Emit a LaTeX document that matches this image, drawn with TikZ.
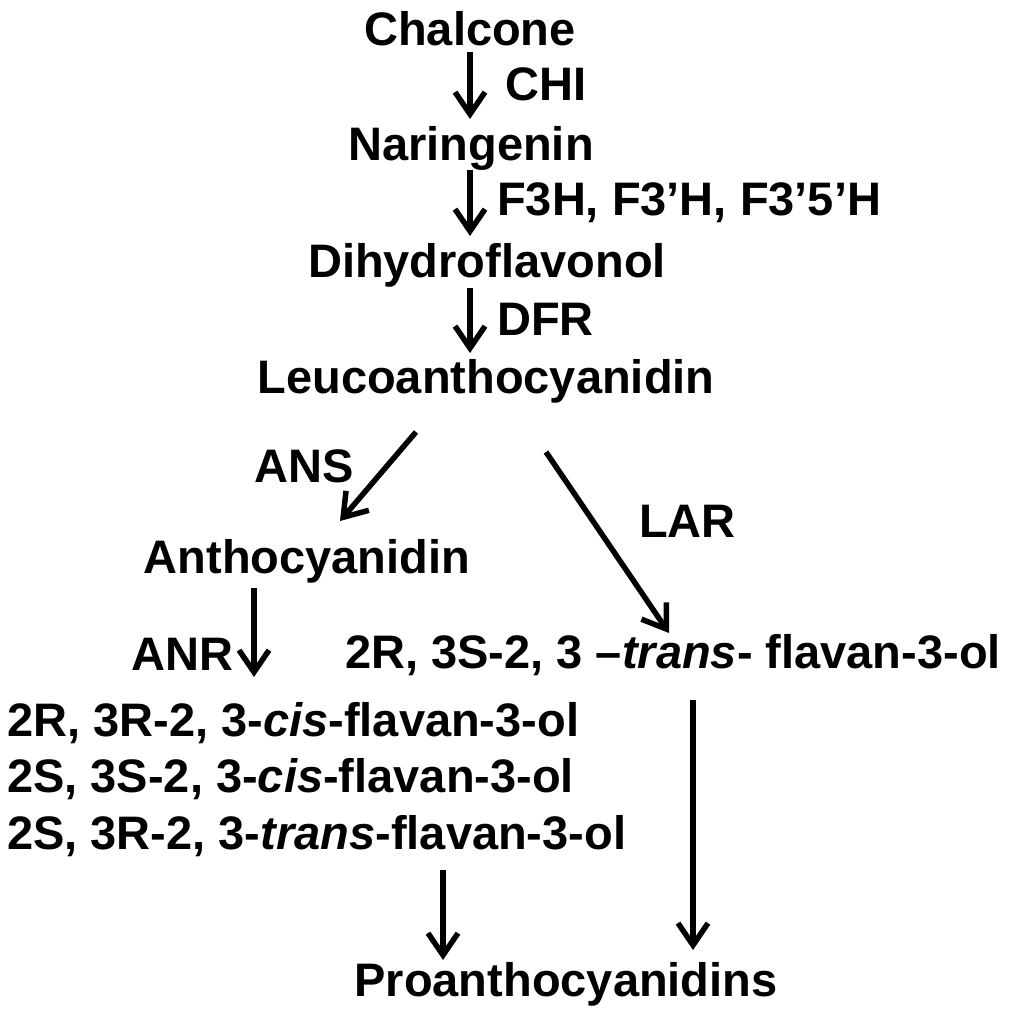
\documentclass[tikz,border=0pt]{standalone}
\usepackage{fontspec}
\setmainfont{Liberation Sans}
\usetikzlibrary{arrows.meta}
\begin{document}
\begin{tikzpicture}[x=1pt,y=-1pt,
  lbl/.style={inner sep=0pt,font=\bfseries\fontsize{47}{56}\selectfont},
  cbase/.style={lbl,anchor=base},
  lbase/.style={lbl,anchor=base west},
  arr/.style={line width=5.5pt,-{Straight Barb[length=22pt,width=30pt]}}]
\useasboundingbox[fill=white] (0,0) rectangle (1024,1015);
% compounds
\node[cbase] (chal) at (470,45) {Chalcone};
\node[cbase] (nar) at (471,160) {Naringenin};
\node[cbase] (dhf) at (487,277) {Dihydroflavonol};
\node[cbase] (leu) at (486,393) {Leucoanthocyanidin};
\node[cbase] (ant) at (307,573) {Anthocyanidin};
\node[lbase] (tr) at (345,668) {2R, 3S-2, 3 –\textit{trans}- flavan-3-ol};
\node[lbase] (c1) at (7,736) {2R, 3R-2, 3-\textit{cis}-flavan-3-ol};
\node[lbase] (c2) at (7,792) {2S, 3S-2, 3-\textit{cis}-flavan-3-ol};
\node[lbase] (c3) at (7,849) {2S, 3R-2, 3-\textit{trans}-flavan-3-ol};
\node[cbase] (pro) at (566,996) {Proanthocyanidins};
% enzymes
\node[lbase] (chi) at (505,100) {CHI};
\node[lbase] (f3h) at (497,215) {F3H, F3’H, F3’5’H};
\node[lbase] (dfr) at (497,335) {DFR};
\node[lbase] (ans) at (254,482) {ANS};
\node[lbase] (lar) at (639,537) {LAR};
\node[lbase] (anr) at (131,670) {ANR};
% arrow end points
\coordinate (a1s) at (470,52);  \coordinate (a1e) at (470,119);
\coordinate (a2s) at (470,170); \coordinate (a2e) at (470,236);
\coordinate (a3s) at (470,288); \coordinate (a3e) at (470,353);
\coordinate (ans1) at (416,432); \coordinate (ans2) at (340,521);
\coordinate (lar1) at (546,452); \coordinate (lar2) at (669,633);
\coordinate (anr1) at (254,588); \coordinate (anr2) at (254,677);
\coordinate (bl1) at (443,870); \coordinate (bl2) at (443,960);
\coordinate (br1) at (693,700); \coordinate (br2) at (693,950);
\draw[arr] (a1s) -- (a1e);
\draw[arr] (a2s) -- (a2e);
\draw[arr] (a3s) -- (a3e);
\draw[arr] (ans1) -- (ans2);
\draw[arr] (lar1) -- (lar2);
\draw[arr] (anr1) -- (anr2);
\draw[arr] (bl1) -- (bl2);
\draw[arr] (br1) -- (br2);
\end{tikzpicture}
\end{document}
